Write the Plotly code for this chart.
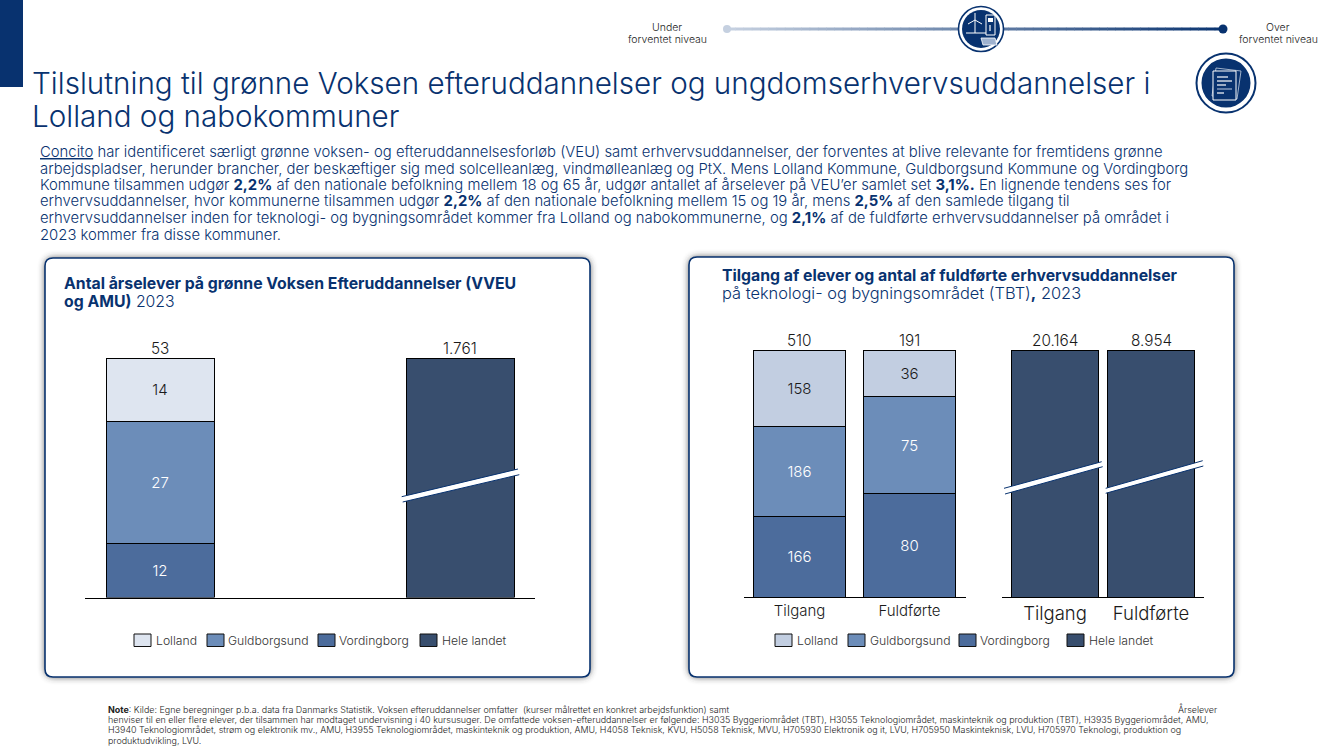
import base64
import plotly.graph_objects as go

# ---------- data ----------
KOMMUNER = ["Vordingborg", "Guldborgsund", "Lolland"]
LEGEND_NAMES = ["Lolland", "Guldborgsund", "Vordingborg", "Hele landet"]
NATIONAL_NAME = "Hele landet"

VEU_CATS = ["Kommuner", "Hele landet"]
VEU_VORDINGBORG = [12]
VEU_GULDBORGSUND = [27]
VEU_LOLLAND = [14]
VEU_NATIONAL = [1761]

TBT_CATS = ["Tilgang", "Fuldførte"]
TBT_VORDINGBORG = [166, 80]
TBT_GULDBORGSUND = [186, 75]
TBT_LOLLAND = [158, 36]
TBT_NATIONAL = [20164, 8954]

TITLE_LINES = [
    "Tilslutning til grønne Voksen efteruddannelser og ungdomserhvervsuddannelser i",
    "Lolland og nabokommuner",
]
BODY_LINES = [
    "<u>Concito</u> har identificeret særligt grønne voksen- og efteruddannelsesforløb (VEU) samt erhvervsuddannelser, der forventes at blive relevante for fremtidens grønne",
    "arbejdspladser, herunder brancher, der beskæftiger sig med solcelleanlæg, vindmølleanlæg og PtX. Mens Lolland Kommune, Guldborgsund Kommune og Vordingborg",
    "Kommune tilsammen udgør <b>2,2%</b> af den nationale befolkning mellem 18 og 65 år, udgør antallet af årselever på VEU’er samlet set <b>3,1%.</b> En lignende tendens ses for",
    "erhvervsuddannelser, hvor kommunerne tilsammen udgør <b>2,2%</b> af den nationale befolkning mellem 15 og 19 år, mens <b>2,5%</b> af den samlede tilgang til",
    "erhvervsuddannelser inden for teknologi- og bygningsområdet kommer fra Lolland og nabokommunerne, og <b>2,1%</b> af de fuldførte erhvervsuddannelser på området i",
    "2023 kommer fra disse kommuner.",
]
NOTE_LINES = [
    "<b>Note</b>: Kilde: Egne beregninger p.b.a. data fra Danmarks Statistik. Voksen efteruddannelser omfatter  (kurser målrettet en konkret arbejdsfunktion) samt",
    "henviser til en eller flere elever, der tilsammen har modtaget undervisning i 40 kursusuger. De omfattede voksen-efteruddannelser er følgende: H3035 Byggeriområdet (TBT), H3055 Teknologiområdet, maskinteknik og produktion (TBT), H3935 Byggeriområdet, AMU,",
    "H3940 Teknologiområdet, strøm og elektronik mv., AMU, H3955 Teknologiområdet, maskinteknik og produktion, AMU, H4058 Teknisk, KVU, H5058 Teknisk, MVU, H705930 Elektronik og it, LVU, H705950 Maskinteknisk, LVU, H705970 Teknologi, produktion og",
    "produktudvikling, LVU.",
]

# ---------- style ----------
W, H = 1333, 750
FONT = "Inter"
NAVY = "#08326F"
INK = "#1A1A1A"
C_VOR = "#4C6C9C"
C_GUL = "#6C8DB9"
C_NAT = "#384E6E"
C_LOL_L = "#DEE5F0"
C_LOL_R = "#C2CEE1"


def X(x):
    return x / W


def Y(y):
    return 1 - y / H


annotations, shapes = [], []


def txt(x, y, s, size, color=INK, anchor="left", weight=300):
    annotations.append(dict(
        x=X(x), y=Y(y), xref="paper", yref="paper", text=s, showarrow=False,
        xanchor=anchor, yanchor="middle", align=anchor,
        font=dict(family=FONT, size=size, color=color, weight=weight)))


def rrect(x0, y0, x1, y1, r):
    return (f"M{X(x0+r)},{Y(y0)} L{X(x1-r)},{Y(y0)} Q{X(x1)},{Y(y0)} {X(x1)},{Y(y0+r)} "
            f"L{X(x1)},{Y(y1-r)} Q{X(x1)},{Y(y1)} {X(x1-r)},{Y(y1)} "
            f"L{X(x0+r)},{Y(y1)} Q{X(x0)},{Y(y1)} {X(x0)},{Y(y1-r)} "
            f"L{X(x0)},{Y(y0+r)} Q{X(x0)},{Y(y0)} {X(x0+r)},{Y(y0)} Z")


def path(d, fill=None, line=None, lw=1, layer="above"):
    shapes.append(dict(type="path", path=d, xref="paper", yref="paper",
                       fillcolor=fill or "rgba(0,0,0,0)", layer=layer,
                       line=dict(color=line or "rgba(0,0,0,0)", width=lw if line else 0)))


def rect(x0, y0, x1, y1, fill, line=None, lw=1, layer="above"):
    shapes.append(dict(type="rect", xref="paper", yref="paper", x0=X(x0), x1=X(x1), y0=Y(y0), y1=Y(y1),
                       fillcolor=fill, layer=layer,
                       line=dict(color=line or "rgba(0,0,0,0)", width=lw if line else 0)))


def circle(cx, cy, r, fill=None, line=None, lw=1):
    shapes.append(dict(type="circle", xref="paper", yref="paper",
                       x0=X(cx-r), x1=X(cx+r), y0=Y(cy+r), y1=Y(cy-r),
                       fillcolor=fill or "rgba(0,0,0,0)", layer="above",
                       line=dict(color=line or "rgba(0,0,0,0)", width=lw if line else 0)))


def seg(x0, y0, x1, y1, color, lw=1):
    shapes.append(dict(type="line", xref="paper", yref="paper", x0=X(x0), x1=X(x1), y0=Y(y0), y1=Y(y1),
                       layer="above", line=dict(color=color, width=lw)))


def panel(x0, y0, x1, y1):
    path(rrect(x0, y0, x1, y1, 8), fill="white", line=NAVY, lw=1.6, layer="below")


def slash(xa0, ya0, xa1, ya1, xb0, yb0, xb1, yb1):
    path(f"M{X(xa0)},{Y(ya0)} L{X(xa1)},{Y(ya1)} L{X(xb1)},{Y(yb1)} L{X(xb0)},{Y(yb0)} Z", fill="white")
    seg(xa0, ya0, xa1, ya1, NAVY, 1)
    seg(xb0, yb0, xb1, yb1, NAVY, 1)


def legend(items):
    for (sx, tx, name, color) in items:
        rect(sx, 634, sx+17, 646.5, color, line="#111111", lw=1)
        txt(tx, 640.5, name, 12.2, "#333333")


def lerp(a, b, t):
    return tuple(round(a[i] + (b[i]-a[i])*t) for i in range(3))


# ---------- page furniture ----------
rect(0, 0, 23, 87, NAVY, layer="below")
PANELS = [(45, 258, 590, 677), (689, 257, 1234, 677)]
for p in PANELS:
    panel(*p)

# blurred panel shadows, as one backdrop picture behind the panels
shadow_rects = "".join(
    f'<rect x="{x0}" y="{y0}" width="{x1-x0}" height="{y1-y0}" rx="8" fill="#303030"/>'
    for x0, y0, x1, y1 in PANELS)
shadow_svg = (f'<svg xmlns="http://www.w3.org/2000/svg" width="{W}" height="{H}" viewBox="0 0 {W} {H}">'
              f'<defs><filter id="b" x="-5%" y="-5%" width="110%" height="110%">'
              f'<feGaussianBlur stdDeviation="3.6"/></filter></defs>'
              f'<g filter="url(#b)" opacity="0.85">{shadow_rects}</g></svg>')
shadow_src = "data:image/svg+xml;base64," + base64.b64encode(shadow_svg.encode()).decode()

N = 60
for i in range(N):
    t = i / N
    c = lerp((197, 208, 224), (8, 50, 111), t)
    seg(727 + 496*t, 29, 727 + 496*(t+1/N) + .5, 29, f"rgb{c}", 3)
circle(727, 29, 4, fill="#C5D0E0")
circle(1223, 29, 4.5, fill=NAVY)
circle(981, 29, 22.5, fill="white", line=NAVY, lw=1.6)
circle(981, 29, 19, fill=NAVY)
# wind turbine
seg(975, 20, 975, 33, "white", 1)
seg(975, 20, 968, 24, "white", 1)
seg(975, 20, 982, 24, "white", 1)
seg(975, 20, 975, 13, "white", 1)
seg(966, 33, 986, 33, "white", 1)
# charger
rect(986, 15, 995, 35, "rgba(0,0,0,0)", line="white", lw=1)
rect(988, 18, 993, 22, "white")
seg(990, 25, 990, 31, "white", 1.2)
# solar panel
path(f"M{X(981)},{Y(38)} L{X(995)},{Y(38)} L{X(997)},{Y(45)} L{X(983)},{Y(45)} Z", fill="#9FB2CF", line="white", lw=.8)

circle(1226, 83, 29.5, fill="white", line=NAVY, lw=2)
circle(1226, 83, 24.5, fill=NAVY)
path(f"M{X(1216)},{Y(68)} L{X(1241)},{Y(71)} L{X(1237)},{Y(99)} L{X(1212)},{Y(96)} Z", line="#C5D0E0", lw=.8)
rect(1213, 71, 1236, 100, NAVY, line="white", lw=1)
for x0, x1, y, c in [(1217, 1228, 77, "white"), (1217, 1232, 81, "white"), (1217, 1226, 85, "white"),
                     (1217, 1232, 89, "#9FB2CF"), (1217, 1224, 93, "white")]:
    seg(x0, y, x1, y, c, 1.2)

txt(667, 28, "Under", 10.5, "#222222", "center")
txt(667, 39, "forventet niveau", 10.5, "#222222", "center")
txt(1278, 28, "Over", 10.5, "#222222", "center")
txt(1278, 39, "forventet niveau", 10.5, "#222222", "center")

for y, line in zip([83, 116], TITLE_LINES):
    txt(30, y, line, 29.6, NAVY)
for y, line in zip([152, 168.5, 185, 201.5, 218, 235], BODY_LINES):
    txt(37.5, y, line, 14.85, NAVY)

txt(62, 283, "<b>Antal årselever på grønne Voksen Efteruddannelser (VVEU</b>", 15.8, NAVY)
txt(62, 301, "<b>og AMU)</b> 2023", 15.8, NAVY)
txt(720, 275, "<b>Tilgang af elever og antal af fuldførte erhvervsuddannelser</b>", 15.8, NAVY)
txt(720, 293, "på teknologi- og bygningsområdet (TBT)<b>,</b> 2023", 16.4, NAVY)

for y, line in zip([709, 719, 729, 740], NOTE_LINES):
    txt(106, y, line, 8.93, "#222222")
txt(1219, 709, "Årselever", 8.93, "#222222", "right")

legend([(134, 154, LEGEND_NAMES[0], C_LOL_L), (207, 226, LEGEND_NAMES[1], C_GUL),
        (318, 337, LEGEND_NAMES[2], C_VOR), (420, 440, LEGEND_NAMES[3], C_NAT)])
legend([(775, 795, LEGEND_NAMES[0], C_LOL_R), (848, 868, LEGEND_NAMES[1], C_GUL),
        (959, 978, LEGEND_NAMES[2], C_VOR), (1067, 1087, LEGEND_NAMES[3], C_NAT)])

slash(401.7, 496.7, 518, 469, 402.7, 502, 519.3, 474.7)
slash(1004, 488.3, 1101.7, 461.7, 1005, 494, 1102.7, 466.7)
slash(1105.7, 488.3, 1202.7, 460.7, 1105.7, 493.3, 1203.3, 466)

# ---------- charts ----------
fig = go.Figure()


def dk(v):
    return f"{v:,}".replace(",", ".")


def bars(x, y, name, color, ax, width, tcolor, show_text=True):
    fig.add_trace(go.Bar(
        x=x, y=y, name=name, xaxis=ax[0], yaxis=ax[1], width=width,
        marker=dict(color=color, line=dict(color="#000000", width=1)),
        text=[dk(v) for v in y] if show_text else None,
        textposition="inside" if show_text else None, insidetextanchor="middle", textangle=0,
        textfont=dict(family=FONT, size=15, color=tcolor, weight=300),
        showlegend=False, hoverinfo="skip"))


def totals(cats, totals_, xref, yref, size=15.3):
    for c, v in zip(cats, totals_):
        annotations.append(dict(x=c, y=100, xref=xref, yref=yref, text=dk(v), showarrow=False,
                                xanchor="center", yanchor="bottom", yshift=-1.5,
                                font=dict(family=FONT, size=size, color=INK, weight=300)))


# Left panel
ax = ("x", "y")
w = 108/300
bars(VEU_CATS[:1], VEU_VORDINGBORG, KOMMUNER[0], C_VOR, ax, w, "white")
bars(VEU_CATS[:1], VEU_GULDBORGSUND, KOMMUNER[1], C_GUL, ax, w, "white")
bars(VEU_CATS[:1], VEU_LOLLAND, KOMMUNER[2], C_LOL_L, ax, w, INK)
bars(VEU_CATS[1:], VEU_NATIONAL, NATIONAL_NAME, C_NAT, ax, w, "white", False)
totals(VEU_CATS, [VEU_VORDINGBORG[0]+VEU_GULDBORGSUND[0]+VEU_LOLLAND[0], VEU_NATIONAL[0]], "x", "y")

# Right panel, municipalities
ax = ("x2", "y2")
w = 92.5/110
bars(TBT_CATS, TBT_VORDINGBORG, KOMMUNER[0], C_VOR, ax, w, "white")
bars(TBT_CATS, TBT_GULDBORGSUND, KOMMUNER[1], C_GUL, ax, w, "white")
bars(TBT_CATS, TBT_LOLLAND, KOMMUNER[2], C_LOL_R, ax, w, INK)
totals(TBT_CATS, [a+b+c for a, b, c in zip(TBT_VORDINGBORG, TBT_GULDBORGSUND, TBT_LOLLAND)], "x2", "y2")

# Right panel, national
ax = ("x3", "y3")
w = 87/96
bars(TBT_CATS, TBT_NATIONAL, NATIONAL_NAME, C_NAT, ax, w, "white", False)
totals(TBT_CATS, TBT_NATIONAL, "x3", "y3")


def xaxis(x0, x1, rng, cats, show, size=13):
    return dict(domain=[X(x0), X(x1)], range=rng, type="category", categoryorder="array", categoryarray=cats,
                showgrid=False, zeroline=False, showline=True, linecolor="#000000", linewidth=1,
                ticks="", showticklabels=show, fixedrange=True,
                tickfont=dict(family=FONT, size=size, color=INK, weight=300))


def yaxis(y0, y1):
    return dict(domain=[Y(y1), Y(y0)], range=[0, 100], visible=False, fixedrange=True)


fig.update_layout(
    width=W, height=H, margin=dict(l=0, r=0, t=0, b=0),
    paper_bgcolor="white", plot_bgcolor="rgba(0,0,0,0)",
    barmode="stack", barnorm="percent", showlegend=False, hovermode=False,
    xaxis=xaxis(85, 535, [-0.25, 1.25], VEU_CATS, False),
    yaxis=yaxis(358, 597.5),
    xaxis2=dict(xaxis(744, 966, [-0.5045, 1.514], TBT_CATS, True, 15), anchor="y2"),
    yaxis2=dict(yaxis(350, 597), anchor="x2"),
    xaxis3=dict(xaxis(1002, 1204, [-0.552, 1.552], TBT_CATS, True, 18.5), anchor="y3"),
    yaxis3=dict(yaxis(350, 597), anchor="x3"),
    images=[dict(source=shadow_src, xref="paper", yref="paper", x=0, y=1, sizex=1, sizey=1,
                 xanchor="left", yanchor="top", sizing="stretch", layer="below")],
    annotations=annotations, shapes=shapes,
)

fig.write_html("out.html", config={"displayModeBar": False, "responsive": False},
               post_script="document.body.style.margin='0';")
